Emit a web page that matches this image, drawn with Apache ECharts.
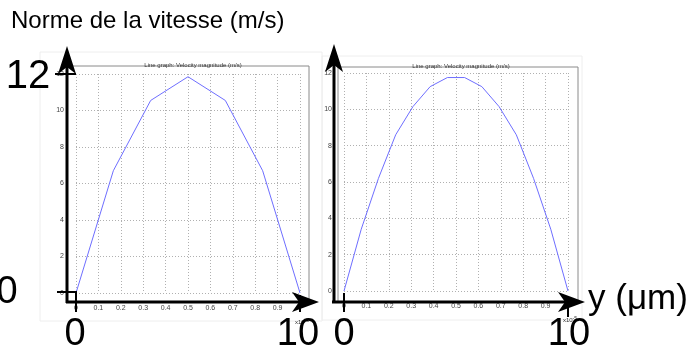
<!DOCTYPE html>
<html>
<head>
<meta charset="utf-8">
<script src="https://cdn.jsdelivr.net/npm/echarts@6/dist/echarts.min.js"></script>
<style>
  html, body { margin: 0; padding: 0; background: #fff; }
  #chart { width: 691px; height: 352px; }
</style>
</head>
<body>
<div id="chart"></div>
<script>
// coarse mesh (left) and finer mesh (right), y in units of 1e-5 m
const xLeft = [0, 0.1667, 0.3333, 0.5, 0.6667, 0.8333, 1]
const vLeft = [0, 6.7, 10.55, 11.85, 10.55, 6.7, 0]
const xRight = [0, 0.0769, 0.1538, 0.2308, 0.3077, 0.3846, 0.4615, 0.5385, 0.6154, 0.6923, 0.7692, 0.8462, 0.9231, 1]
const vRight = [0, 3.4, 6.2, 8.6, 10.15, 11.25, 11.75, 11.75, 11.25, 10.15, 8.6, 6.2, 3.4, 0]
const plotTitle = 'Line graph: Velocity magnitude (m/s)'
const yTitle = 'Norme de la vitesse (m/s)'
const xTitle = 'y (μm)'

const font = 'Liberation Sans, Arial, sans-serif'
const lineColor = '#6e6eff'

const chart = echarts.init(document.getElementById('chart'))

function toPairs(xs, ys) {
  return xs.map((x, i) => [x, ys[i]])
}

// small comsol-like axes inside each plot
function dataX(idx) {
  return {
    type: 'value', gridIndex: idx, min: 0, max: 1, interval: 0.1,
    axisLine: { show: false },
    axisTick: { show: false },
    axisLabel: {
      fontSize: 7, color: '#444', fontFamily: font, margin: 12,
      formatter: v => (v >= 0.999 ? '' : String(Math.round(v * 10) / 10))
    },
    splitLine: { show: true, lineStyle: { type: [1, 2], color: '#b0b0b0', width: 1 } }
  }
}
function dataY(idx) {
  return {
    type: 'value', gridIndex: idx, min: 0, max: 12, interval: 2,
    axisLine: { show: false },
    axisTick: { show: false },
    axisLabel: { fontSize: 7, color: '#444', fontFamily: font, margin: 12 },
    splitLine: { show: true, lineStyle: { type: [1, 2], color: '#b0b0b0', width: 1 } }
  }
}
function hidden(idx) {
  return { type: 'value', gridIndex: idx, show: false, splitLine: { show: false } }
}

const black = { stroke: '#000', lineWidth: 3 }
const thin = { stroke: '#000', lineWidth: 2 }

function vArrow(x, yBottom, yTip) {
  return [
    { type: 'line', shape: { x1: x, y1: yBottom, x2: x, y2: yTip + 20 }, style: black, z: 10 },
    { type: 'polygon', shape: { points: [[x, yTip], [x + 9, yTip + 28], [x, yTip + 21], [x - 9, yTip + 28]] }, style: { fill: '#000' }, z: 10 }
  ]
}
function hArrow(y, xLeftEnd, xTip) {
  return [
    { type: 'line', shape: { x1: xLeftEnd, y1: y, x2: xTip - 20, y2: y }, style: black, z: 10 },
    { type: 'polygon', shape: { points: [[xTip, y], [xTip - 27, y - 10], [xTip - 20, y], [xTip - 27, y + 10]] }, style: { fill: '#000' }, z: 10 }
  ]
}
function bigText(text, x, y, size, align) {
  return { type: 'text', x: x, y: y, z: 20, style: { text: text, font: size + 'px ' + font, fill: '#000', align: align || 'left', verticalAlign: 'middle' } }
}
function expText(x, y) {
  return {
    type: 'text', x: x, y: y, z: 5,
    style: { text: '{a|x10}{b|-5}', align: 'center', rich: { a: { fontSize: 6, fontFamily: font, fill: '#333' }, b: { fontSize: 5, fontFamily: font, fill: '#333', verticalAlign: 'top', padding: [0, 0, 4, 0] } } }
  }
}

const option = {
  animation: false,
  title: [
    { text: plotTitle, left: 188, top: 57, textAlign: 'center', textStyle: { fontSize: 6, fontWeight: 'normal', color: '#333', fontFamily: font } },
    { text: plotTitle, left: 456, top: 58, textAlign: 'center', textStyle: { fontSize: 6, fontWeight: 'normal', color: '#333', fontFamily: font } }
  ],
  grid: [
    { left: 76, top: 74, width: 224, height: 219 },
    { left: 344, top: 73, width: 224, height: 218 },
    // outer frames of the two plots
    { left: 67, top: 66, width: 242, height: 236, show: true, borderColor: '#8a8a8a', borderWidth: 1, backgroundColor: 'transparent' },
    { left: 338, top: 67, width: 240, height: 235, show: true, borderColor: '#8a8a8a', borderWidth: 1, backgroundColor: 'transparent' }
  ],
  xAxis: [dataX(0), dataX(1), hidden(2), hidden(3)],
  yAxis: [dataY(0), dataY(1), hidden(2), hidden(3)],
  series: [
    {
      type: 'line', xAxisIndex: 0, yAxisIndex: 0, data: toPairs(xLeft, vLeft),
      symbol: 'none', lineStyle: { color: lineColor, width: 1 }
    },
    {
      type: 'line', xAxisIndex: 1, yAxisIndex: 1, data: toPairs(xRight, vRight),
      symbol: 'none', lineStyle: { color: lineColor, width: 1 }
    }
  ],
  graphic: [
    // faint borders of the two exported figures
    { type: 'rect', shape: { x: 40, y: 52, width: 282, height: 269 }, style: { fill: 'none', stroke: '#eeeeee', lineWidth: 1 }, z: 0 },
    { type: 'rect', shape: { x: 322, y: 56, width: 260, height: 264 }, style: { fill: 'none', stroke: '#eeeeee', lineWidth: 1 }, z: 0 },
    expText(302, 318),
    expText(570, 316),
    ...vArrow(67, 303, 46),
    ...hArrow(302, 66, 319),
    ...vArrow(334, 303, 44),
    ...hArrow(302, 332, 585),
    { type: 'line', shape: { x1: 57, y1: 292, x2: 77, y2: 292 }, style: thin, z: 10 },
    { type: 'line', shape: { x1: 55, y1: 74, x2: 76, y2: 74 }, style: thin, z: 10 },
    { type: 'line', shape: { x1: 76, y1: 292, x2: 76, y2: 312 }, style: thin, z: 10 },
    { type: 'line', shape: { x1: 300, y1: 295, x2: 300, y2: 312 }, style: thin, z: 10 },
    { type: 'line', shape: { x1: 344, y1: 293, x2: 344, y2: 312 }, style: thin, z: 10 },
    { type: 'line', shape: { x1: 568, y1: 302, x2: 568, y2: 317 }, style: thin, z: 10 },
    bigText(yTitle, 11, 21, 24),
    bigText('12', 28, 77, 40, 'center'),
    bigText('0', 7, 293, 38, 'center'),
    bigText('0', 75, 335, 38, 'center'),
    bigText('10', 298, 335, 38, 'center'),
    bigText('0', 344, 335, 38, 'center'),
    bigText('10', 569, 335, 38, 'center'),
    bigText(xTitle, 588, 299, 35)
  ]
}

chart.setOption(option)
window.onresize = function() {
  chart.resize()
}
</script>
</body>
</html>
